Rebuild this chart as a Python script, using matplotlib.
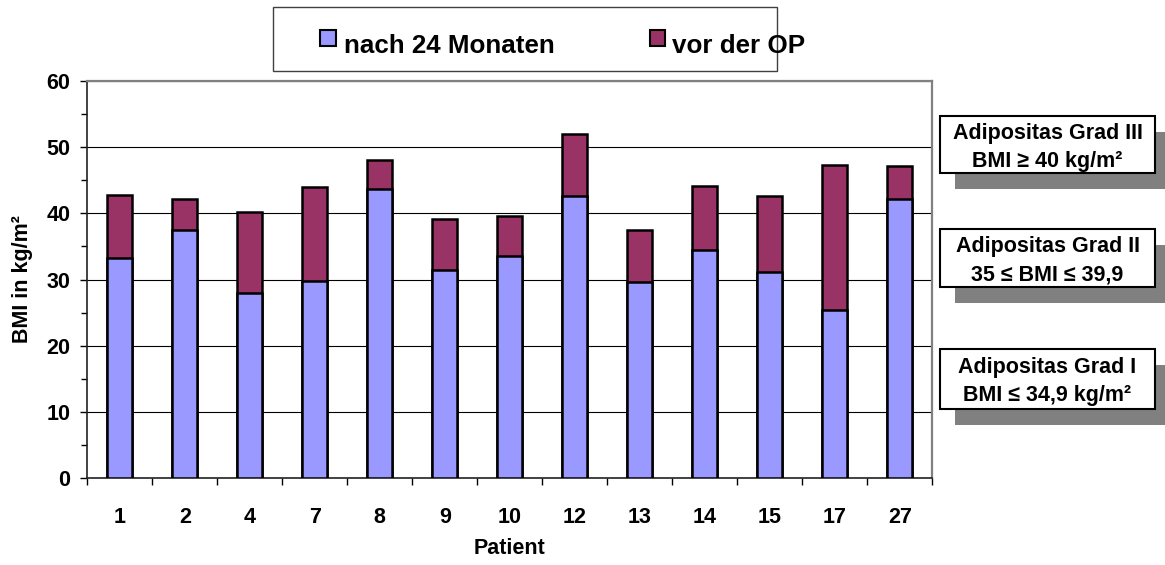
import numpy as np
import matplotlib
matplotlib.use('Agg')
import matplotlib.pyplot as plt
from matplotlib.patches import Rectangle
from matplotlib.ticker import MultipleLocator, FixedLocator

# BMI values per patient
patients = ['1', '2', '4', '7', '8', '9', '10', '12', '13', '14', '15', '17', '27']
bmi_vor_op = [42.7, 42.2, 40.2, 43.9, 48.1, 39.1, 39.6, 51.9, 37.4, 44.1, 42.6, 47.3, 47.2]
bmi_nach_24 = [33.3, 37.5, 28.0, 29.8, 43.6, 31.5, 33.5, 42.6, 29.6, 34.5, 31.2, 25.4, 42.1]

series_labels = ['nach 24 Monaten', 'vor der OP']
grade_texts = [
    ('Adipositas Grad III', 'BMI \u2265 40 kg/m\u00b2'),
    ('Adipositas Grad II', '35 \u2264 BMI \u2264 39,9'),
    ('Adipositas Grad I', 'BMI \u2264 34,9 kg/m\u00b2'),
]

col_nach = '#9999FF'
col_vor = '#993366'

plt.rcParams['font.family'] = ['Liberation Sans', 'DejaVu Sans']
plt.rcParams['font.weight'] = 'bold'

W, H = 1165, 565
fig = plt.figure(figsize=(W / 100, H / 100), dpi=100)


def fx(x):
    return x / W


def fy(y):
    return 1 - y / H


# plot area in pixels: left 87, right 932, top 81, bottom 478
ax = fig.add_axes([fx(87.3), fy(478.3), fx(932.3) - fx(87.3), fy(80.7) - fy(478.3)])

x = np.arange(len(patients))
bar_w = 0.38
ax.bar(x, bmi_vor_op, width=bar_w, color=col_vor, edgecolor='black', linewidth=1.8, zorder=2)
ax.bar(x, bmi_nach_24, width=bar_w, color=col_nach, edgecolor='black', linewidth=1.8, zorder=3)

ax.set_xlim(-0.5, len(patients) - 0.5)
ax.set_ylim(0, 60)

ax.yaxis.set_major_locator(MultipleLocator(10))
ax.yaxis.set_minor_locator(MultipleLocator(5))
ax.tick_params(axis='y', which='major', direction='out', length=5.3, width=1, pad=7, labelsize=15.5)
ax.tick_params(axis='y', which='minor', direction='out', length=4, width=1)
for lab in ax.get_yticklabels():
    lab.set_fontweight('bold')

# ticks between categories, labels centred under bars
ax.xaxis.set_major_locator(FixedLocator(np.arange(-0.5, len(patients), 1.0)))
ax.xaxis.set_minor_locator(FixedLocator(x))
ax.xaxis.set_major_formatter(plt.NullFormatter())
ax.set_xticks(x, patients, minor=True)
ax.tick_params(axis='x', which='major', direction='out', length=4.8, width=1)
ax.tick_params(axis='x', which='minor', length=0, pad=21, labelsize=15.5)

ax.yaxis.grid(True, which='major', color='black', linewidth=0.8)
ax.set_axisbelow(True)

for side in ['top', 'right']:
    ax.spines[side].set_color('#808080')
    ax.spines[side].set_linewidth(1.6)
ax.spines['left'].set_linewidth(1.2)
ax.spines['bottom'].set_linewidth(1.2)
ax.spines['left'].set_color('#222222')
ax.spines['bottom'].set_color('#222222')

ax.set_xlabel('Patient', fontsize=15.5, fontweight='bold')
ax.xaxis.set_label_coords(0.5, (478.3 - 549) / 397.6)
ax.xaxis.label.set_va('center')
ax.set_ylabel('BMI in kg/m\u00b2', fontsize=15.5, fontweight='bold')
ax.yaxis.set_label_coords((22.5 - 87.3) / 845, 0.5)
ax.yaxis.label.set_va('center')

# legend box on top
fig.patches.append(Rectangle((fx(272.7), fy(70.7)), fx(777) - fx(272.7), fy(6.7) - fy(70.7),
                             transform=fig.transFigure, facecolor='white',
                             edgecolor='#404040', linewidth=1.0))
legend_items = [(320, 344, col_nach, series_labels[0]), (649.5, 672, col_vor, series_labels[1])]
for sx, tx, col, lab in legend_items:
    fig.patches.append(Rectangle((fx(sx), fy(46)), fx(15.5), fy(30.5) - fy(46),
                                 transform=fig.transFigure, facecolor=col,
                                 edgecolor='black', linewidth=1.5))
    fig.text(fx(tx), fy(53.3), lab, fontsize=18.7, fontweight='bold', va='baseline', ha='left')

# obesity grade boxes with shadows
boxes = [(116, 173), (229, 287), (349, 409)]
for (top, bot), (line1, line2) in zip(boxes, grade_texts):
    left, right = 940, 1155
    fig.patches.append(Rectangle((fx(left + 15), fy(bot + 16)), fx(right - left + 20), fy(top + 16) - fy(bot + 16),
                                 transform=fig.transFigure, facecolor='#808080',
                                 edgecolor='none'))
    fig.patches.append(Rectangle((fx(left), fy(bot)), fx(right - left), fy(top) - fy(bot),
                                 transform=fig.transFigure, facecolor='white',
                                 edgecolor='black', linewidth=1.5))
    cx = (left + right) / 2
    fig.text(fx(cx), fy(top + 18), line1, fontsize=15.5, fontweight='bold', ha='center', va='center')
    fig.text(fx(cx), fy(top + 46), line2, fontsize=15.5, fontweight='bold', ha='center', va='center')

fig.savefig('out.png', dpi=100)
